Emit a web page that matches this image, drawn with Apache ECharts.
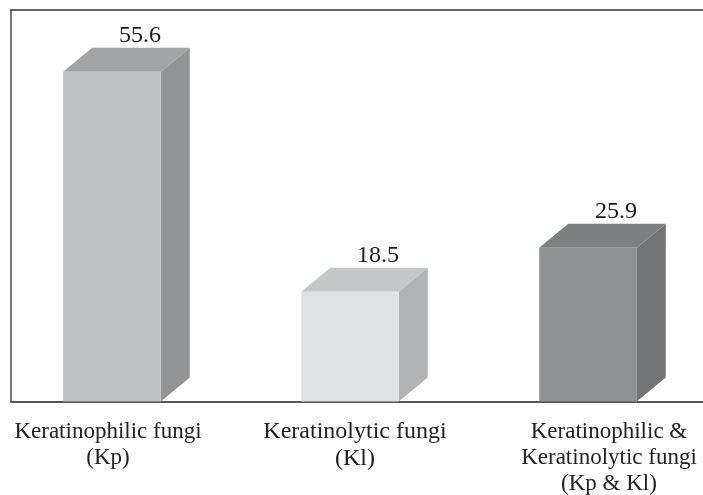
<!DOCTYPE html>
<html>
<head>
<meta charset="utf-8">
<script src="https://cdn.jsdelivr.net/npm/echarts@6/dist/echarts.min.js"></script>
<style>
html, body { margin: 0; padding: 0; background: #fff; }
#main { width: 703px; height: 495px; }
</style>
</head>
<body>
<div id="main"></div>
<script>
// categories and percentages
var categories = [
	'Keratinophilic fungi\n(Kp)',
	'Keratinolytic fungi\n(Kl)',
	'Keratinophilic &\nKeratinolytic fungi\n(Kp & Kl)'
];
var values = [55.6, 18.5, 25.9];

// face colours per bar: front, top, side
var faceColors = [
	['#bfc1c4', '#a2a3a5', '#939496'],
	['#dfe1e4', '#c4c6c8', '#b1b3b5'],
	['#8f9092', '#7e7f81', '#737476']
];

var fontFamily = '"Liberation Serif", "Times New Roman", serif';
var halfW = 0.205;   // half bar width, in category units
var depthX = 29;     // 3d depth, px
var depthY = 24;

function renderBar(params, api) {
	var i = api.value(0);
	var v = api.value(1);
	var tl = api.coord([i - halfW, v]);
	var br = api.coord([i + halfW, 0]);
	var xL = tl[0], yT = tl[1], xR = br[0], yB = br[1];
	var c = faceColors[params.dataIndex];
	return {
		type: 'group',
		children: [
			{
				type: 'polygon',
				shape: { points: [[xR, yT], [xR + depthX, yT - depthY], [xR + depthX, yB - depthY], [xR, yB]] },
				style: { fill: c[2] }
			},
			{
				type: 'polygon',
				shape: { points: [[xL, yT], [xR, yT], [xR + depthX, yT - depthY], [xL + depthX, yT - depthY]] },
				style: { fill: c[1] }
			},
			{
				type: 'rect',
				shape: { x: xL, y: yT, width: xR - xL, height: yB - yT },
				style: { fill: c[0] }
			},
			{
				type: 'text',
				x: (xL + xR) / 2 + 28,
				y: yT - 36,
				style: {
					text: String(v),
					fill: '#1a1a1a',
					font: '24px ' + fontFamily,
					align: 'center',
					verticalAlign: 'middle'
				}
			}
		]
	};
}

var myChart = echarts.init(document.getElementById('main'));
myChart.setOption({
	animation: false,
	grid: {
		left: 11,
		right: 0,
		top: 10,
		bottom: 91
	},
	xAxis: [{
		type: 'value',
		min: -0.4244,
		max: 2.4832,
		splitLine: { show: false },
		axisTick: { show: false },
		axisLine: { show: true, onZero: false, lineStyle: { color: '#555', width: 2 } },
		axisLabel: {
			customValues: [0, 1, 2],
			margin: 17,
			formatter: function (val) {
				var idx = Math.round(val);
				var tag = ['a', 'b', 'c'][idx];
				return categories[idx].split('\n').map(function (s) {
					return '{' + tag + '|' + s + '}';
				}).join('\n');
			},
			rich: {
				a: { fontSize: 23, lineHeight: 26, fontFamily: fontFamily, color: '#222', padding: [0, 8, 0, 0] },
				b: { fontSize: 24, lineHeight: 27, fontFamily: fontFamily, color: '#222', padding: [0, 0, 0, 10] },
				c: { fontSize: 23, lineHeight: 26, fontFamily: fontFamily, color: '#222', padding: [0, 0, 0, 42] }
			}
		}
	}, {
		// top edge of the frame
		type: 'value',
		position: 'top',
		min: -0.4244,
		max: 2.4832,
		splitLine: { show: false },
		axisTick: { show: false },
		axisLabel: { show: false },
		axisLine: { show: true, onZero: false, lineStyle: { color: '#333', width: 1.5 } }
	}],
	yAxis: {
		type: 'value',
		min: 0,
		max: 66,
		splitLine: { show: false },
		axisTick: { show: false },
		axisLabel: { show: false },
		axisLine: { show: true, onZero: false, lineStyle: { color: '#444', width: 1.5 } }
	},
	series: [{
		type: 'custom',
		renderItem: renderBar,
		data: values.map(function (v, i) { return [i, v]; })
	}]
});
</script>
</body>
</html>
